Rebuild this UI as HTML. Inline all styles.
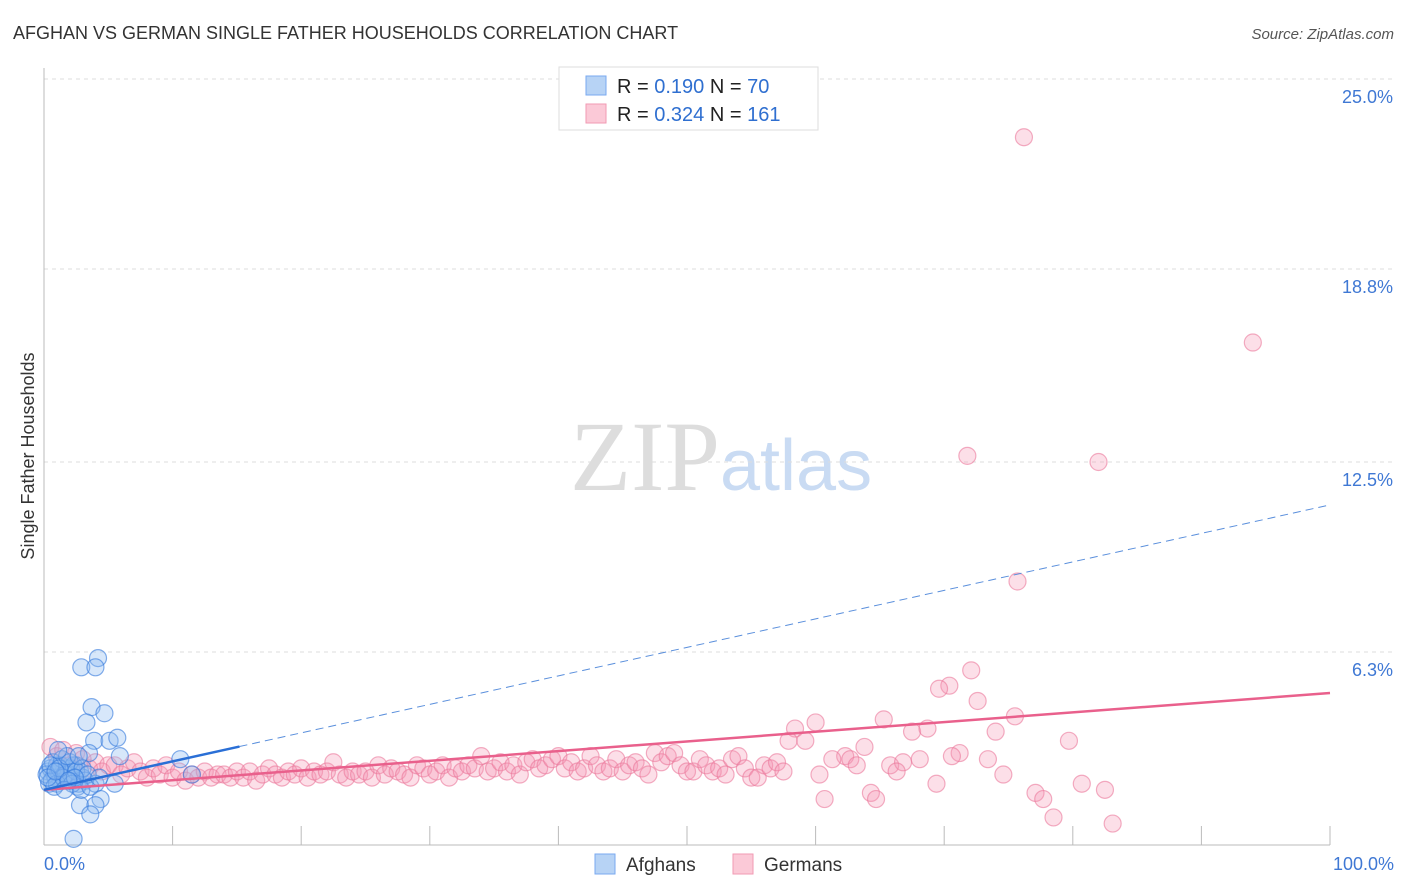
<!DOCTYPE html>
<html><head><meta charset="utf-8"><style>
body{margin:0;background:#fff;font-family:"Liberation Sans",sans-serif;}
svg{display:block}
</style></head><body>
<svg id="chart" width="1406" height="892" xmlns="http://www.w3.org/2000/svg">
<text x="13" y="39" font-size="18" fill="#333">AFGHAN VS GERMAN SINGLE FATHER HOUSEHOLDS CORRELATION CHART</text>
<text x="1394" y="39" font-size="15" fill="#555" text-anchor="end" font-style="italic">Source: ZipAtlas.com</text>
<text x="720" y="490" font-size="100" fill="#ddd" text-anchor="end" font-family="Liberation Serif">ZIP</text>
<text x="720" y="490" font-size="72" fill="#c9dbf3">atlas</text>
<text transform="translate(34,456) rotate(-90)" font-size="18" fill="#333" text-anchor="middle">Single Father Households</text>
<g id="grid"></g><g id="axes"></g><g id="pts"></g><g id="trend"></g>
<g>
<rect x="559" y="67" width="259" height="63" fill="#fff" stroke="#ddd"/>
<rect x="586" y="76" width="20" height="19" fill="#b7d3f5" stroke="#7aaaf0"/>
<rect x="586" y="104" width="20" height="19" fill="#fbc9d7" stroke="#f29ab3"/>
<text x="617" y="93" font-size="20" fill="#222">R = <tspan fill="#2f6fd0">0.190</tspan>   N = <tspan fill="#2f6fd0">70</tspan></text>
<text x="617" y="121" font-size="20" fill="#222">R = <tspan fill="#2f6fd0">0.324</tspan>   N = <tspan fill="#2f6fd0">161</tspan></text>
</g>
<g>
<rect x="595" y="854" width="20" height="20" fill="#b7d3f5" stroke="#7aaaf0"/>
<text x="626" y="871" font-size="19" fill="#333">Afghans</text>
<rect x="733" y="854" width="20" height="20" fill="#fbc9d7" stroke="#f29ab3"/>
<text x="764" y="871" font-size="19" fill="#333">Germans</text>
</g>
</svg>
<script>
const yTicks=[25.0,18.8,12.5,6.3];
const yTickLabels=["25.0%","18.8%","12.5%","6.3%"];
const xTickLabels=["0.0%","100.0%"];
const afghansX=[2.9,4.2,4.0,3.7,4.7,3.3,3.9,5.1,5.7,5.9,10.6,3.5,11.5,4.0,5.5,4.4,2.8,4.0,3.6,2.3,
0.3,0.5,0.8,1.0,1.2,1.5,1.8,2.0,2.2,2.5,2.8,3.0,0.4,0.7,0.9,1.1,1.3,1.6,1.9,2.1,2.4,2.7,0.2,0.6,1.4,1.7,2.3,2.6,0.5,1.0,1.5,2.0,2.5,3.2,0.8,1.2,1.8,2.2,3.0,3.4,0.3,0.9,1.6,2.4,2.9,1.1,1.9,2.7,3.6,4.3];
const afghansY=[5.8,6.1,5.8,4.5,4.3,4.0,3.4,3.4,3.5,2.9,2.8,3.0,2.3,2.0,2.0,1.5,1.3,1.3,1.0,0.2,
2.4,2.5,2.3,2.6,2.2,2.4,2.5,2.3,2.1,2.6,2.4,2.2,2.0,2.7,2.2,2.4,2.6,2.1,2.3,2.5,2.2,2.0,2.3,2.1,2.8,2.3,2.6,1.9,2.6,2.0,2.2,2.7,2.4,2.1,1.9,2.5,2.9,2.0,2.5,2.3,2.2,2.4,1.8,2.2,1.8,3.1,2.1,2.9,1.9,2.2];
const germansX=[76.2,94.0,71.8,82.0,75.7,72.1,70.4,69.6,72.6,75.5,65.3,60.0,67.5,68.7,74.0,58.4,57.9,59.2,79.7,63.8,71.2,70.6,62.3,62.7,61.3,63.2,65.8,66.8,68.1,73.4,66.3,60.3,74.6,69.4,80.7,77.1,82.5,64.3,77.7,60.7,64.7,78.5,83.1,
0.5,1,1.5,2,2.5,3,3.5,4,4.5,5,5.5,6,6.5,7,7.5,8,8.5,9,9.5,10,10.5,11,11.5,12,12.5,13,13.5,14,14.5,15,15.5,16,16.5,17,17.5,18,18.5,19,19.5,20,20.5,21,21.5,22,22.5,23,23.5,24,24.5,25,25.5,26,26.5,27,27.5,28,28.5,29,29.5,30,30.5,31,31.5,32,32.5,33,33.5,34,34.5,35,35.5,36,36.5,37,37.5,38,38.5,39,39.5,40,40.5,41,41.5,42,42.5,43,43.5,44,44.5,45,45.5,46,46.5,47,47.5,48,48.5,49,49.5,50,50.5,51,51.5,52,52.5,53,53.5,54,54.5,55,55.5,56,56.5,57,57.5];
const germansY=[23.1,16.4,12.7,12.5,8.6,5.7,5.2,5.1,4.7,4.2,4.1,4.0,3.7,3.8,3.7,3.8,3.4,3.4,3.4,3.2,3.0,2.9,2.9,2.8,2.8,2.6,2.6,2.7,2.8,2.8,2.4,2.3,2.3,2.0,2.0,1.7,1.8,1.7,1.5,1.5,1.5,0.9,0.7,
3.2,2.9,3.1,2.6,3.0,2.8,2.5,2.7,2.4,2.6,2.6,2.3,2.5,2.7,2.4,2.2,2.5,2.3,2.6,2.2,2.4,2.1,2.3,2.2,2.4,2.2,2.3,2.3,2.2,2.4,2.2,2.4,2.1,2.3,2.5,2.3,2.2,2.4,2.3,2.5,2.2,2.4,2.3,2.4,2.7,2.3,2.2,2.4,2.3,2.4,2.2,2.6,2.3,2.5,2.4,2.3,2.2,2.6,2.5,2.3,2.4,2.6,2.2,2.5,2.4,2.6,2.5,2.9,2.4,2.5,2.7,2.4,2.6,2.3,2.7,2.8,2.5,2.6,2.8,2.9,2.5,2.7,2.4,2.5,2.9,2.6,2.4,2.5,2.8,2.4,2.6,2.7,2.5,2.3,3.0,2.7,2.9,3.0,2.6,2.4,2.4,2.8,2.6,2.4,2.5,2.3,2.8,2.9,2.5,2.2,2.2,2.6,2.5,2.7,2.4];
const trendAfghans=[1.8,11.1];
const trendGermans=[1.8,4.96];
const NS="http://www.w3.org/2000/svg";
const xs=v=>44+v*12.86;
const ys=v=>845-v*30.64;
function mk(tag,attrs,parent){const e=document.createElementNS(NS,tag);for(const k in attrs)e.setAttribute(k,attrs[k]);parent.appendChild(e);return e;}
const grid=document.getElementById('grid'),axes=document.getElementById('axes'),pts=document.getElementById('pts'),tr=document.getElementById('trend');
yTicks.forEach((t,i)=>{
 const l=mk('line',{x1:44,x2:1395,y1:ys(t),y2:ys(t),stroke:'#ddd','stroke-dasharray':'4,4'},grid);
 
 
 const tx=mk('text',{x:1393,y:ys(t)+24,'font-size':18,fill:'#3f78d4','text-anchor':'end'},grid);
 tx.textContent=yTickLabels[i];
 
 
});
const yax=mk('line',{x1:44,x2:44,y1:68,y2:845,stroke:'#bbb'},axes);


const xax=mk('line',{x1:44,x2:1330,y1:845,y2:845,stroke:'#bbb'},axes);


for(let i=1;i<=10;i++){
 const t=mk('line',{x1:xs(i*10),x2:xs(i*10),y1:826,y2:845,stroke:'#bbb'},axes);
 
 
}
const xl0=mk('text',{x:44,y:870,'font-size':18,fill:'#3f78d4'},axes);xl0.textContent=xTickLabels[0];


const xl1=mk('text',{x:1394,y:870,'font-size':18,fill:'#3f78d4','text-anchor':'end'},axes);xl1.textContent=xTickLabels[1];


germansX.forEach((x,i)=>{
 const c=mk('circle',{cx:xs(x),cy:ys(germansY[i]),r:8.5,fill:'rgba(245,150,180,0.3)',stroke:'rgba(235,120,155,0.6)','stroke-width':1.2},pts);
 
 
});
afghansX.forEach((x,i)=>{
 const c=mk('circle',{cx:xs(x),cy:ys(afghansY[i]),r:8.5,fill:'rgba(140,185,240,0.35)',stroke:'rgba(50,120,220,0.6)','stroke-width':1.2},pts);
 
 
});
const g1=mk('line',{x1:xs(0),y1:ys(trendGermans[0]),x2:xs(100),y2:ys(trendGermans[1]),stroke:'#e9608c','stroke-width':2.5},tr);


const aEnd=15.2, aY=trendAfghans[0]+(trendAfghans[1]-trendAfghans[0])*aEnd/100;
const a1=mk('line',{x1:xs(0),y1:ys(trendAfghans[0]),x2:xs(aEnd),y2:ys(aY),stroke:'#2a6fd6','stroke-width':2.5},tr);


const a2=mk('line',{x1:xs(aEnd),y1:ys(aY),x2:xs(100),y2:ys(trendAfghans[1]),stroke:'#5a8fdc','stroke-width':1,'stroke-dasharray':'8,5'},tr);


</script>
</body></html>
